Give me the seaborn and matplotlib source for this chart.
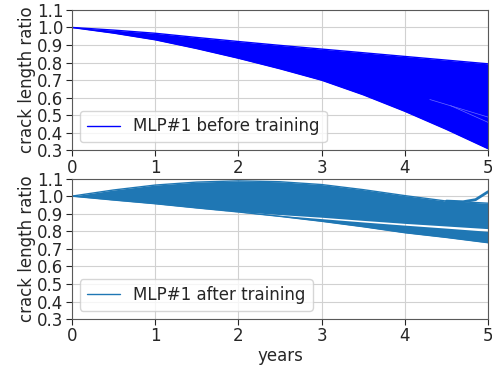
import matplotlib
matplotlib.use('Agg')
import matplotlib.pyplot as plt
import seaborn as sns

# Daten
years = [0, 0.5, 1, 1.5, 2, 2.5, 3, 3.5, 4, 4.5, 5]

# MLP#1 vor dem Training: Hülle des Linienbündels
before_upper = [1.0, 0.985, 0.967, 0.943, 0.92, 0.898, 0.877, 0.856, 0.835, 0.814, 0.793]
before_lower = [1.0, 0.968, 0.93, 0.88, 0.825, 0.765, 0.70, 0.617, 0.523, 0.42, 0.31]
# helle Lücken zwischen einzelnen Linien rechts
streak_a_years = [4.3, 5]
streak_a_vals = [0.59, 0.49]
streak_b_years = [4.55, 5]
streak_b_vals = [0.555, 0.46]

# MLP#1 nach dem Training: zwei Bündel
after_upper = [1.0, 1.035, 1.063, 1.08, 1.087, 1.082, 1.066, 1.037, 1.003, 0.972, 0.96]
after_mid_hi = [1.0, 0.98, 0.96, 0.935, 0.912, 0.895, 0.88, 0.862, 0.845, 0.83, 0.815]
after_mid_lo = [1.0, 0.98, 0.96, 0.935, 0.911, 0.891, 0.872, 0.853, 0.835, 0.818, 0.80]
after_lower = [1.0, 0.978, 0.957, 0.933, 0.91, 0.885, 0.857, 0.826, 0.792, 0.765, 0.735]
hook_years = [4.5, 4.7, 4.85, 5]
hook_vals = [0.972, 0.968, 0.98, 1.025]

sns.set_style("whitegrid", {'axes.edgecolor': '.35', 'grid.color': '.82',
                            'xtick.bottom': True, 'ytick.left': True})
plt.rcParams['font.family'] = ['DejaVu Sans']
plt.rcParams['font.size'] = 12

fig, (ax1, ax2) = plt.subplots(2, 1, figsize=(4.92, 3.66), dpi=100)
fig.subplots_adjust(left=0.146, right=0.992, top=0.973, bottom=0.128, hspace=0.2)

# oberes Panel
c1 = '#0000ff'
ax1.fill_between(years, before_lower, before_upper, color=c1, lw=0)
sns.lineplot(x=years, y=before_upper, color=c1, lw=1, ax=ax1, label='MLP#1 before training')
sns.lineplot(x=years, y=before_lower, color=c1, lw=1, ax=ax1)
sns.lineplot(x=streak_a_years, y=streak_a_vals, color='#6a6aff', lw=0.5, ax=ax1)
sns.lineplot(x=streak_b_years, y=streak_b_vals, color='#6a6aff', lw=0.5, ax=ax1)

# unteres Panel
c2 = '#1f77b4'
ax2.fill_between(years, after_mid_hi, after_upper, color=c2, lw=0)
ax2.fill_between(years, after_lower, after_mid_lo, color=c2, lw=0)
sns.lineplot(x=years, y=after_upper, color=c2, lw=1, ax=ax2, label='MLP#1 after training')
sns.lineplot(x=years, y=after_lower, color=c2, lw=1, ax=ax2)
sns.lineplot(x=hook_years, y=hook_vals, color=c2, lw=2, ax=ax2)

for ax in (ax1, ax2):
    ax.set_xlim(0, 5)
    ax.set_ylim(0.3, 1.1)
    ax.set_yticks([0.3, 0.4, 0.5, 0.6, 0.7, 0.8, 0.9, 1.0, 1.1])
    ax.set_xticks([0, 1, 2, 3, 4, 5])
    ax.set_ylabel('crack length ratio', labelpad=1)
    ax.tick_params(axis='both', length=4, pad=2, labelsize=12)
    ax.legend(loc='lower left', fontsize=12, handlelength=2.0)

ax2.set_xlabel('years', labelpad=1)

plt.savefig('out.png', dpi=100)
